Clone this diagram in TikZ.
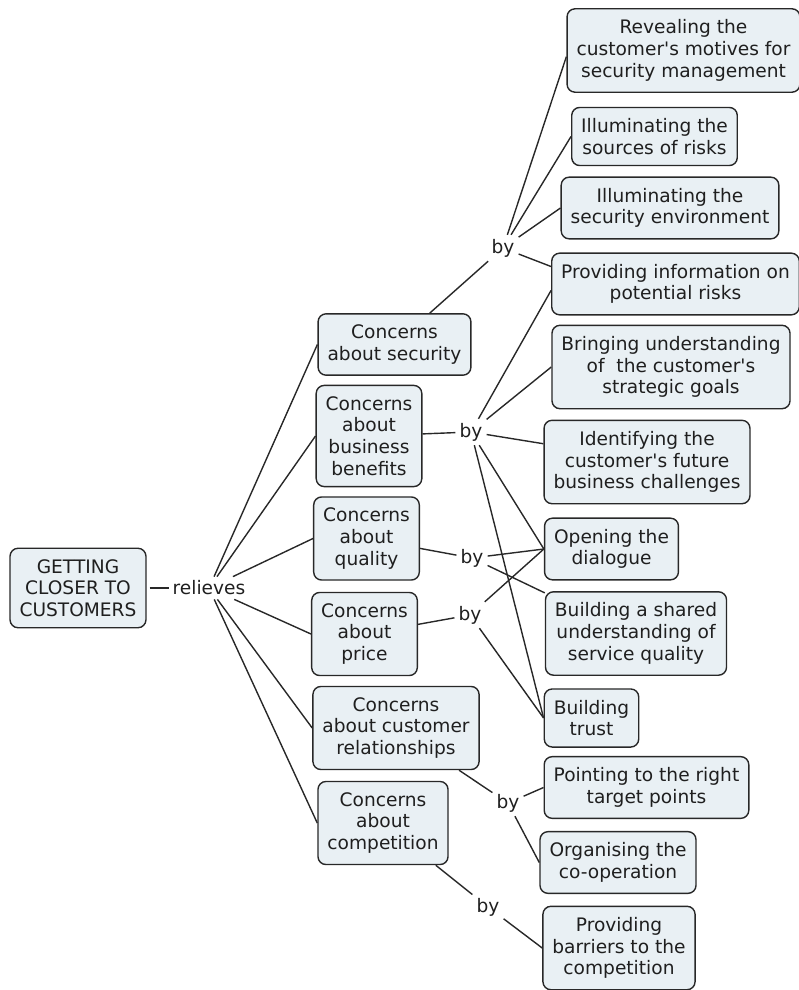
\documentclass[tikz,border=0pt]{standalone}
\usepackage{fontspec}
\setmainfont{DejaVu Sans}
\usepackage{tikz}
\usetikzlibrary{backgrounds}
\definecolor{cmapfill}{RGB}{233,240,244}
\definecolor{cmapline}{RGB}{40,40,40}
\newcommand{\aps}{\textquotesingle}

\begin{document}
\begin{tikzpicture}[x=1pt,y=-1pt,
  concept/.style={draw=cmapline,fill=cmapfill,line width=1.4pt,rounded corners=8pt,
    align=center,inner xsep=9.5pt,inner ysep=11pt,
    font=\fontsize{18.6}{21.7}\selectfont,text=black!88},
  linkword/.style={inner sep=4pt,font=\fontsize{18.6}{21.7}\selectfont,text=black!88},
  link/.style={draw=cmapline,line width=1.4pt}]
\useasboundingbox (0,0) rectangle (798,990);
% root and first link word
\node[concept] (root) at (78,588) {GETTING\\CLOSER TO\\CUSTOMERS};
\node[linkword] (rel) at (209,588) {relieves};
% concerns
\node[concept] (sec) at (394.5,344.5) {Concerns\\about security};
\node[concept] (bus) at (369,436) {Concerns\\about\\business\\benefits};
\node[concept] (qual) at (366.5,538.5) {Concerns\\about\\quality};
\node[concept] (price) at (364.5,634) {Concerns\\about\\price};
\node[concept] (cust) at (396,728) {Concerns\\about customer\\relationships};
\node[concept] (comp) at (383,823) {Concerns\\about\\competition};
% link words
\node[linkword] (by1) at (503,248) {by};
\node[linkword] (by2) at (471,432) {by};
\node[linkword] (by3) at (472,558) {by};
\node[linkword] (by4) at (470,615) {by};
\node[linkword] (by5) at (508,803) {by};
\node[linkword] (by6) at (488,907) {by};
% means
\node[concept] (rev) at (683.5,50.5) {Revealing the\\customer\aps s motives for\\security management};
\node[concept] (src) at (654.5,136.5) {Illuminating the\\sources of risks};
\node[concept] (env) at (670,208) {Illuminating the\\security environment};
\node[concept] (prov) at (675.5,284) {Providing information on\\potential risks};
\node[concept] (bring) at (671,367) {Bringing understanding\\of~ the customer\aps s\\strategic goals};
\node[concept] (ident) at (647,462) {Identifying the\\customer\aps s future\\business challenges};
\node[concept] (open) at (611.5,549) {Opening the\\dialogue};
\node[concept] (shared) at (636,633.5) {Building a shared\\understanding of\\service quality};
\node[concept] (trust) at (591.5,718) {Building\\trust};
\node[concept] (point) at (646.5,787.5) {Pointing to the right\\target points};
\node[concept] (org) at (618,862.5) {Organising the\\co-operation};
\node[concept] (barr) at (619,948) {Providing\\barriers to the\\competition};
\begin{scope}[on background layer]
\draw[link,shorten <=3pt] (root) -- (rel);
\foreach \c in {sec,bus,qual,price,cust,comp}
  \draw[link] (rel) -- (\c.west);
% security
\draw[link] (sec) -- (by1);
\draw[link] (by1) -- (rev.183);
\draw[link] (by1) -- (src.west);
\draw[link] (by1) -- (env.west);
\draw[link] (by1) -- (prov.172);
% business benefits
\draw[link] (bus) -- (by2);
\draw[link] (by2) -- (prov.183);
\draw[link] (by2) -- (bring.west);
\draw[link] (by2) -- (ident.170);
\draw[link] (by2) -- (open.west);
\draw[link] (by2) -- (trust.west);
% quality
\draw[link] (qual) -- (by3);
\draw[link] (by3) -- (open.west);
\draw[link] (by3) -- (shared.156);
% price
\draw[link] (price) -- (by4);
\draw[link] (by4) -- (open.west);
\draw[link] (by4) -- (trust.west);
% customer relationships
\draw[link] (cust) -- (by5);
\draw[link] (by5) -- (point.west);
\draw[link] (by5) -- (org.west);
% competition
\draw[link] (comp) -- (by6);
\draw[link] (by6) -- (barr.west);
\end{scope}
\end{tikzpicture}
\end{document}
